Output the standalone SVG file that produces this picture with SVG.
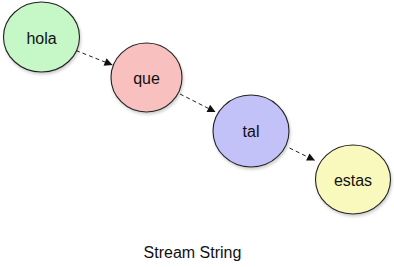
<svg xmlns="http://www.w3.org/2000/svg" width="394" height="267" viewBox="0 0 394 267">
<style>
.node{stroke:#222;stroke-width:1.1;filter:url(#sh)}
.lbl{font-family:"Liberation Sans",Arial,sans-serif;font-size:16px;fill:#111;text-anchor:middle}
.edge{stroke:#222;stroke-width:1;stroke-dasharray:4,3;fill:none;marker-end:url(#ah)}
</style>
<defs>
<marker id="ah" viewBox="0 0 10 10" refX="10" refY="5" markerWidth="10" markerHeight="8" markerUnits="userSpaceOnUse" orient="auto">
<path d="M0,0L10,5L0,10z" fill="#111"/>
</marker>
<filter id="sh" x="-20%" y="-20%" width="150%" height="150%">
<feDropShadow dx="1" dy="2" stdDeviation="1.5" flood-color="#000" flood-opacity="0.2"/>
</filter>
</defs>
<rect width="394" height="267" fill="#fff"/>
<g id="edges">
<line class="edge" x1="76" y1="50.5" x2="112.5" y2="65"/>
<line class="edge" x1="180" y1="94" x2="215.5" y2="112"/>
<line class="edge" x1="289.5" y1="148" x2="315" y2="160.5"/>
</g>
<g id="hola">
<ellipse class="node" cx="41.5" cy="37" rx="38" ry="35" fill="#c6f7c6"/>
<text class="lbl" x="41.5" y="44">hola</text>
</g>
<g id="que">
<ellipse class="node" cx="146.5" cy="77.5" rx="35.5" ry="34.5" fill="#f9c0c0"/>
<text class="lbl" x="146.5" y="83.5">que</text>
</g>
<g id="tal">
<ellipse class="node" cx="251" cy="131" rx="38" ry="36" fill="#c2c2f9"/>
<text class="lbl" x="251" y="137">tal</text>
</g>
<g id="estas">
<ellipse class="node" cx="353" cy="179.5" rx="37.5" ry="34.5" fill="#f9f9bd"/>
<text class="lbl" x="353" y="185.5">estas</text>
</g>
<text class="lbl" x="192.5" y="258">Stream String</text>
</svg>
